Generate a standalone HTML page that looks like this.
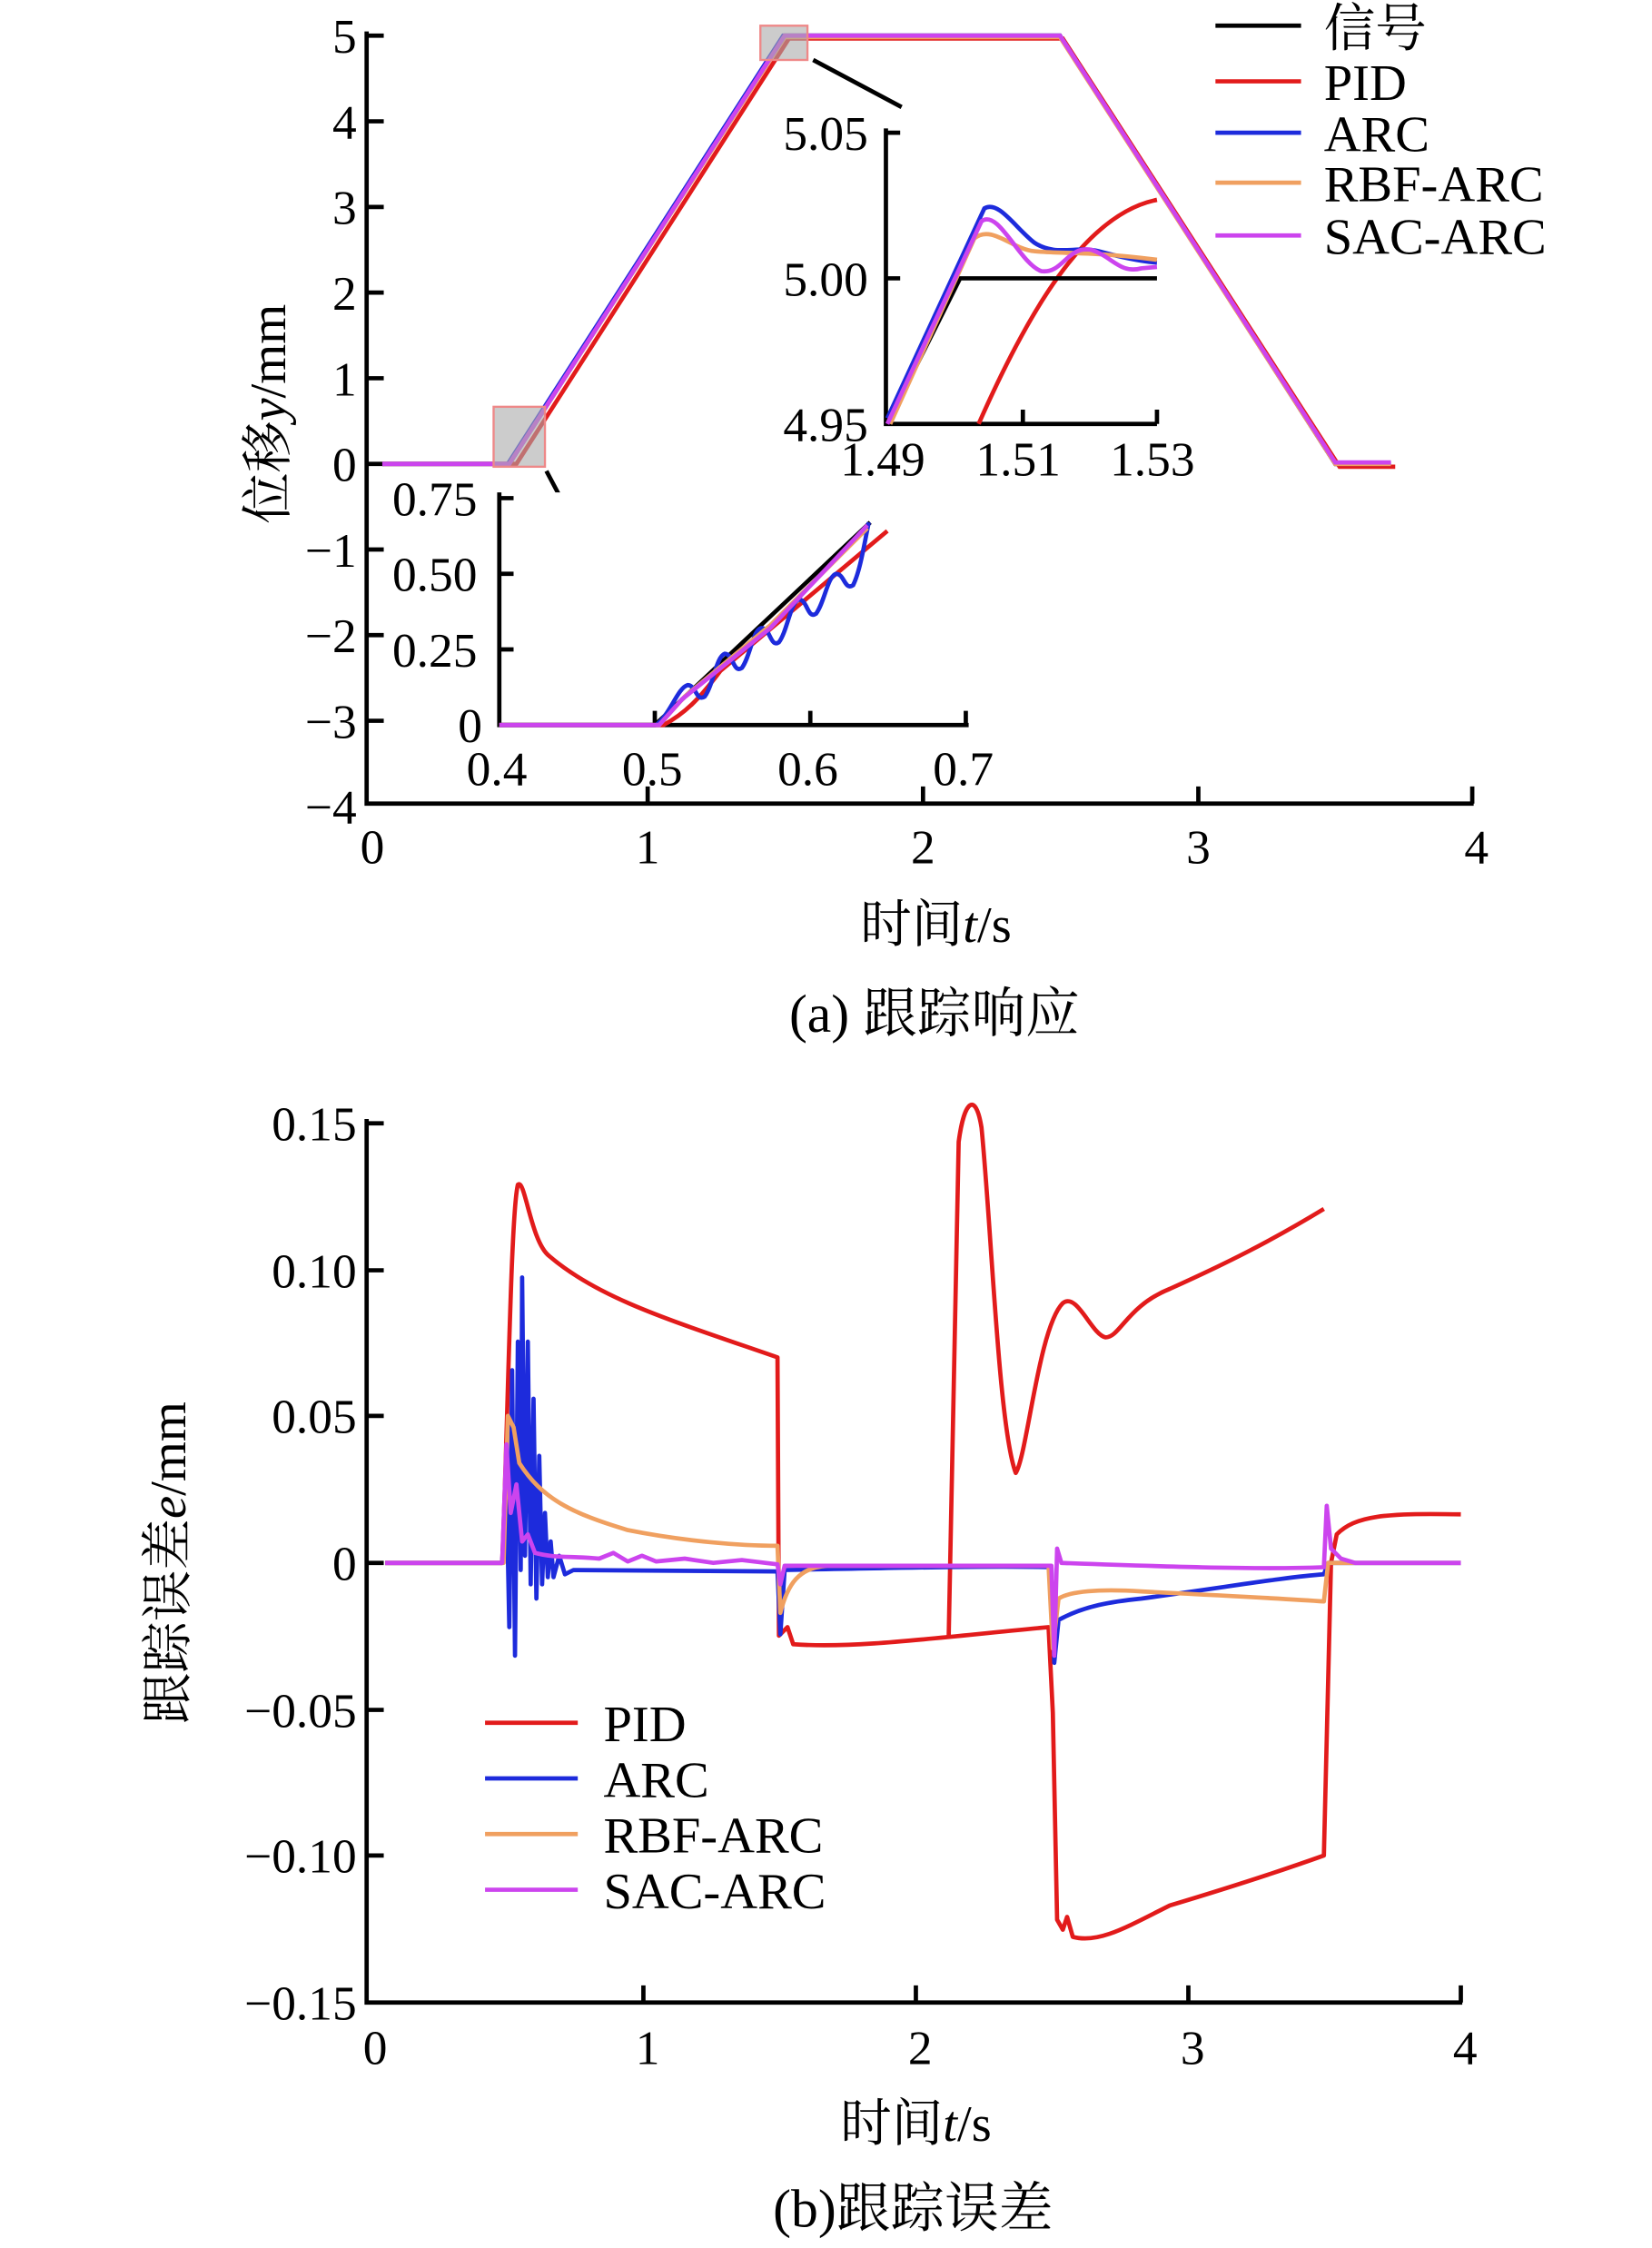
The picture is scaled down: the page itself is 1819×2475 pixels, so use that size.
<!DOCTYPE html>
<html><head><meta charset="utf-8"><style>
html,body{margin:0;padding:0;background:#fff;}
svg{display:block;}
text{font-family:"Liberation Serif","Noto Serif CJK SC","Noto Sans CJK SC",serif;fill:#000;}
</style></head><body>
<svg width="1819" height="2475" viewBox="0 0 1158 1575" preserveAspectRatio="none" xmlns="http://www.w3.org/2000/svg">
<rect width="1158" height="1575" fill="#fff"/>
<!-- ===== TOP PLOT ===== -->
<g stroke="#000" stroke-width="3" fill="none">
<path d="M257,22 V563 H1033"/>
<path d="M257,25 h12 M257,85 h12 M257,145 h12 M257,205 h12 M257,265 h12 M257,325 h12 M257,385 h12 M257,445 h12 M257,505 h12"/>
<path d="M454,563 v-12 M647,563 v-12 M840,563 v-12 M1032,563 v-12"/>
</g>
<g font-size="34" text-anchor="end">
<text x="250" y="37">5</text><text x="250" y="97">4</text><text x="250" y="157">3</text><text x="250" y="217">2</text><text x="250" y="277">1</text><text x="250" y="337">0</text>
<text x="250" y="397">−1</text><text x="250" y="457">−2</text><text x="250" y="517">−3</text><text x="250" y="577">−4</text>
</g>
<g font-size="34" text-anchor="middle">
<text x="261" y="605">0</text><text x="454" y="605">1</text><text x="647" y="605">2</text><text x="840" y="605">3</text><text x="1035" y="605">4</text>
</g>
<text x="656" y="660" font-size="36" text-anchor="middle">时间<tspan font-style="italic">t</tspan>/s</text>
<text x="655" y="723" font-size="38" text-anchor="middle">(a) 跟踪响应</text>
<text transform="translate(200,290) rotate(-90)" font-size="36" text-anchor="middle">位移<tspan font-style="italic">y</tspan>/mm</text>
<!-- curves -->
<g fill="none" stroke-width="3">
<path d="M268,325 H357 L550,25 H743 L936,325 H975" stroke="#000"/>
<path d="M268,325 H362 L553,27 H745 L939,327 H978" stroke="#e21b1b"/>
<path d="M268,325 H356 L549,25 H743 L936,325 H975" stroke="#1d2bdc"/>
<path d="M268,325 H357 L550,26 H743 L936,325 H975" stroke="#f0a060"/>
<path d="M268,325 H357 L550,25 H743 L936,324 H975" stroke="#cc44ee"/>
</g>
<!-- zoom boxes -->
<rect x="346" y="285" width="36" height="42" fill="#aaa" fill-opacity="0.6" stroke="#e88" stroke-width="1.5"/>
<rect x="533" y="18" width="33" height="24" fill="#aaa" fill-opacity="0.6" stroke="#e88" stroke-width="1.5"/>
<path d="M383,330 L400,362 M570,42 L632,75" stroke="#000" stroke-width="3"/>
<!-- inset upper right -->
<g stroke="#000" stroke-width="3" fill="none">
<path d="M621,90 V297 H811 M621,93 h10 M621,195 h10 M717,297 v-10 M811,297 v-10"/>
</g>
<g font-size="34">
<text x="549" y="105">5.05</text><text x="549" y="207">5.00</text><text x="549" y="309">4.95</text>
<text x="589" y="333">1.49</text><text x="684" y="333">1.51</text><text x="778" y="333">1.53</text>
</g>
<g fill="none" stroke-width="3">
<path d="M686,297 C720,220 760,150 811,140" stroke="#e21b1b"/>
<path d="M622,297 L673,195 H811" stroke="#000"/>
<path d="M622,293 L690,146 C700,140 712,160 725,170 C740,180 755,172 770,176 C785,180 798,183 811,184" stroke="#1d2bdc"/>
<path d="M624,297 L683,167 C695,157 710,175 725,176 C745,178 765,176 811,182" stroke="#f0a060"/>
<path d="M622,297 L688,155 C700,146 715,185 730,190 C745,192 748,172 765,175 C780,180 785,192 800,188 L811,187" stroke="#cc44ee"/>
</g>
<!-- inset lower -->
<rect x="352" y="345" width="328" height="165" fill="#fff"/>
<g stroke="#000" stroke-width="3" fill="none">
<path d="M350,345 V508 H679 M350,349 h10 M350,402 h10 M350,455 h10 M459,508 v-10 M568,508 v-10 M677,508 v-10"/>
</g>
<g font-size="34">
<text x="275" y="361">0.75</text><text x="275" y="414">0.50</text><text x="275" y="467">0.25</text><text x="321" y="520">0</text>
<text x="327" y="550">0.4</text><text x="436" y="550">0.5</text><text x="545" y="550">0.6</text><text x="654" y="550">0.7</text>
</g>
<g fill="none" stroke-width="3">
<path d="M350,508 H465 C480,500 490,490 505,470 L622,372" stroke="#e21b1b"/>
<path d="M350,508 H459 L610,366" stroke="#000"/>
<path d="M350,508 H460 C470,500 475,482 482,480 C488,480 488,492 494,488 C500,480 502,460 508,458 C514,458 514,472 520,468 C526,460 528,440 534,440 C540,440 540,454 546,450 C552,442 554,422 560,420 C566,420 566,434 572,430 C578,422 580,404 586,402 C592,402 592,414 598,410 C603,400 606,380 609,366" stroke="#1d2bdc"/>
<path d="M350,508 H462 L480,488 L540,438 L608,370" stroke="#f0a060"/>
<path d="M350,508 H462 L478,490 L540,440 L608,368" stroke="#cc44ee"/>
</g>
<!-- top legend -->
<g stroke-width="3">
<line x1="852" y1="18" x2="912" y2="18" stroke="#000"/>
<line x1="852" y1="57" x2="912" y2="57" stroke="#e21b1b"/>
<line x1="852" y1="93" x2="912" y2="93" stroke="#1d2bdc"/>
<line x1="852" y1="128" x2="912" y2="128" stroke="#f0a060"/>
<line x1="852" y1="165" x2="912" y2="165" stroke="#cc44ee"/>
</g>
<g font-size="36">
<text x="928" y="32">信号</text><text x="928" y="70">PID</text><text x="928" y="106">ARC</text><text x="928" y="141">RBF-ARC</text><text x="928" y="178">SAC-ARC</text>
</g>

<!-- ===== BOTTOM PLOT ===== -->
<g stroke="#000" stroke-width="3" fill="none">
<path d="M257,784 V1403 H1025"/>
<path d="M257,787 h12 M257,890 h12 M257,992 h12 M257,1095 h12 M257,1198 h12 M257,1300 h12"/>
<path d="M451,1403 v-12 M642,1403 v-12 M833,1403 v-12 M1024,1403 v-12"/>
</g>
<g font-size="34" text-anchor="end">
<text x="250" y="799">0.15</text><text x="250" y="902">0.10</text><text x="250" y="1004">0.05</text><text x="250" y="1107">0</text>
<text x="250" y="1210">−0.05</text><text x="250" y="1312">−0.10</text><text x="250" y="1415">−0.15</text>
</g>
<g font-size="34" text-anchor="middle">
<text x="263" y="1446">0</text><text x="454" y="1446">1</text><text x="645" y="1446">2</text><text x="836" y="1446">3</text><text x="1027" y="1446">4</text>
</g>
<text x="642" y="1500" font-size="36" text-anchor="middle">时间<tspan font-style="italic">t</tspan>/s</text>
<text x="640" y="1560" font-size="38" text-anchor="middle">(b)跟踪误差</text>
<text transform="translate(130,1095) rotate(-90)" font-size="36" text-anchor="middle">跟踪误差<tspan font-style="italic">e</tspan>/mm</text>
<g fill="none" stroke-width="3" stroke-linejoin="round">
<path d="M270,1095 H352 C356,1000 358,850 363,830 C368,825 372,870 385,880 C420,910 470,925 545,951 L546,1146 L552,1140 L556,1152 C600,1155 650,1148 735,1140 L738,1200 L741,1345 L745,1352 L748,1343 L752,1357 C770,1362 790,1350 820,1335 C870,1320 900,1310 928,1300 L933,1095 L937,1075 C950,1062 970,1060 1024,1061" stroke="#e21b1b"/>
<path d="M665,1147 L672,800 C676,770 684,765 688,790 C695,860 700,1000 712,1032 C720,1020 728,930 745,913 C755,905 765,935 775,937 C785,937 790,915 820,903 C860,885 890,870 928,847" stroke="#e21b1b"/>
<path d="M270,1095 H352 L355,1040 L357,1140 L359,960 L361,1160 L363,940 L365,1100 L366,895 L368,1090 L370,940 L372,1110 L374,980 L376,1120 L378,1020 L380,1110 L382,1060 L384,1105 L386,1080 L388,1105 L392,1090 L396,1103 L402,1100 L545,1101 L547,1145 L550,1100 C650,1098 700,1097 737,1098 L739,1165 L742,1135 C760,1125 780,1122 800,1120 C860,1112 900,1105 928,1103 L931,1095 H1024" stroke="#1d2bdc"/>
<path d="M270,1095 H353 L356,992 L360,1000 L364,1025 C380,1050 400,1060 440,1072 C480,1080 520,1083 545,1083 L547,1130 C552,1110 560,1098 580,1097 H735 L738,1155 L742,1120 C750,1115 770,1113 800,1115 C860,1118 900,1120 928,1122 L931,1095 H1024" stroke="#f0a060"/>
<path d="M270,1095 H352 L355,1012 L358,1060 L362,1040 L366,1080 L370,1075 L375,1088 C390,1092 400,1090 420,1092 L430,1088 L440,1094 L450,1090 L460,1094 L480,1092 L500,1095 L520,1093 L545,1096 L547,1110 L550,1097 H737 L739,1160 L741,1085 L744,1095 C800,1097 880,1100 928,1098 L930,1055 L933,1085 L940,1092 L950,1095 H1024" stroke="#cc44ee"/>
</g>
<g stroke-width="3">
<line x1="340" y1="1207" x2="405" y2="1207" stroke="#e21b1b"/>
<line x1="340" y1="1246" x2="405" y2="1246" stroke="#1d2bdc"/>
<line x1="340" y1="1285" x2="405" y2="1285" stroke="#f0a060"/>
<line x1="340" y1="1324" x2="405" y2="1324" stroke="#cc44ee"/>
</g>
<g font-size="36">
<text x="423" y="1220">PID</text><text x="423" y="1259">ARC</text><text x="423" y="1298">RBF-ARC</text><text x="423" y="1337">SAC-ARC</text>
</g>
</svg>
</body></html>
